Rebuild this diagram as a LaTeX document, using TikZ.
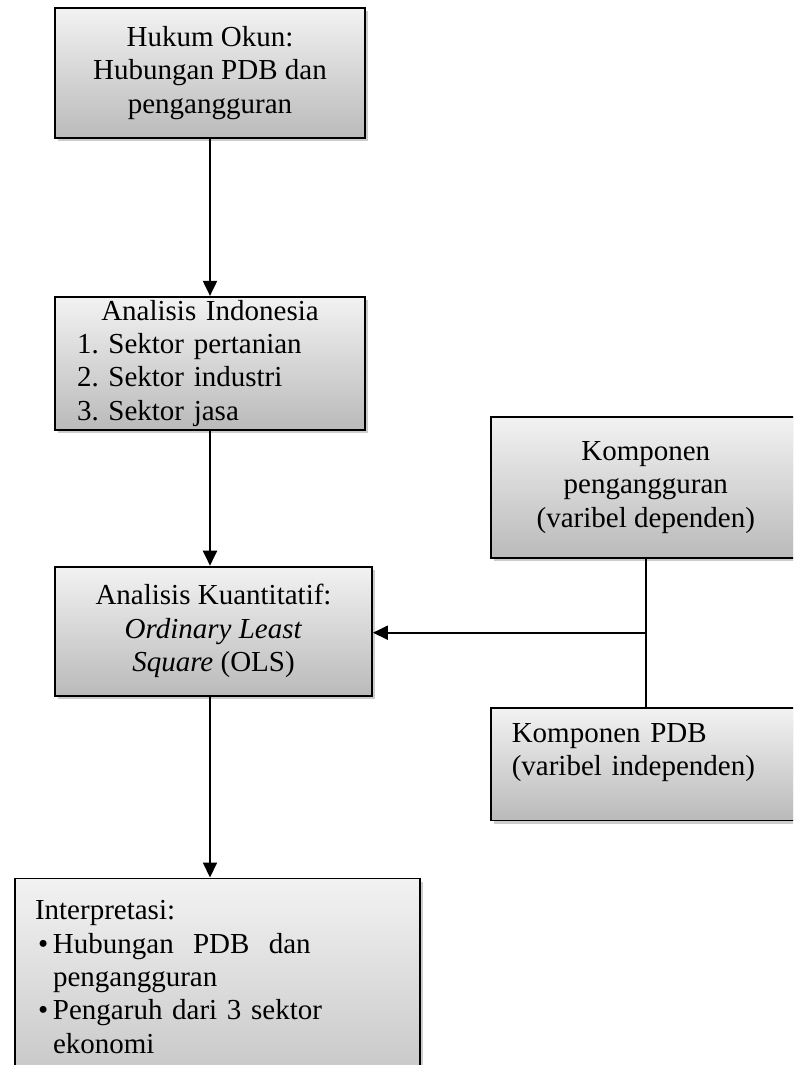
\documentclass[tikz,border=0pt]{standalone}
\usepackage{fontspec}
\setmainfont{Liberation Serif}
\usetikzlibrary{positioning,arrows.meta,shadows}
\frenchspacing

\begin{document}
\begin{tikzpicture}[>={Triangle[width=7pt,length=7.5pt]},
        stage/.style={draw, line width=0.9pt, top color=black!5, bottom color=black!27,
            drop shadow={shadow xshift=1.6pt, shadow yshift=-1.6pt, fill=black!50, opacity=0.4},
            font=\fontsize{14.5}{16.7}\selectfont, minimum width=155pt, align=center},
        liststage/.style={stage, align=left, inner xsep=11pt, inner ysep=1pt, text width=133pt},
        link/.style={line width=1pt}]
        \useasboundingbox (0,0) rectangle (396.5pt,-532.5pt);
        \clip (0,0) rectangle (396.5pt,-532.5pt);

        \node[stage, minimum height=65pt] (P0) at (105pt,-36.5pt) {Hukum Okun:\\Hubungan PDB dan\\pengangguran};
        \node[liststage, minimum height=66.5pt, below=78.5pt of P0] (P1) {\makebox[\linewidth]{Analisis Indonesia}\\1. Sektor pertanian\\2. Sektor industri\\3. Sektor jasa};
        \node[stage, minimum width=158.5pt, minimum height=64.5pt, below=67.5pt of P1.south west, anchor=north west] (P2) {Analisis Kuantitatif:\\\textit{Ordinary Least}\\\textit{Square} (OLS)};
        \node[stage, align=left, text width=182.5pt, inner xsep=10pt, inner ysep=11pt, text depth=100pt,
            below=90.5pt of P2.south west, anchor=north west, xshift=-20pt] (P3)
            {Interpretasi:\\
             \makebox[9pt][l]{\hspace{1.5pt}\textbullet}Hubungan~ PDB~ dan\\
             \hspace*{9pt}pengangguran\\
             \makebox[9pt][l]{\hspace{1.5pt}\textbullet}Pengaruh dari 3 sektor\\
             \hspace*{9pt}ekonomi};

        \node[stage, minimum height=70.5pt, right=58.5pt of P2.north east, anchor=south west, yshift=3.5pt] (K0) {Komponen\\pengangguran\\(varibel dependen)};
        \node[stage, align=left, text width=134pt, inner xsep=10.5pt, inner ysep=8pt, text depth=31pt,
            below=74pt of K0.south west, anchor=north west] (K1) {Komponen PDB\\(varibel independen)};

        \draw[link, ->] (P0) -- (P1);
        \draw[link, ->] (P1.south) -- (P1.south |- P2.north);
        \draw[link, ->] (P1.south |- P2.south) -- (P1.south |- P3.north);
        \draw[link] (K0) -- (K1);
        \path (K0.south) -- (K1.north) coordinate[pos=0.5] (J);
        \draw[link, ->] (J) -- (J -| P2.east);
    \end{tikzpicture}
\end{document}
